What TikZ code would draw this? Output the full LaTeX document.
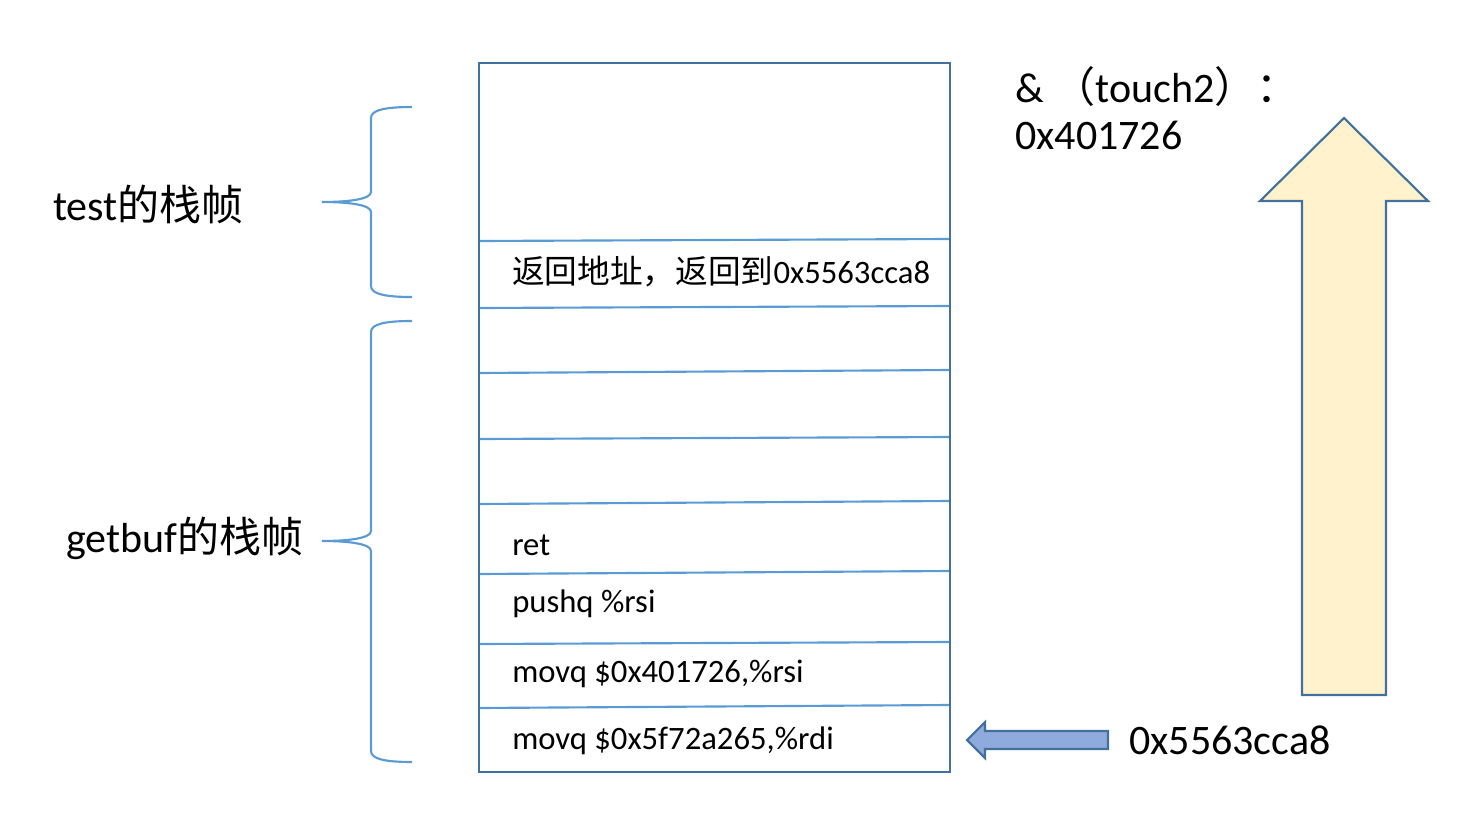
\documentclass[tikz,border=0pt]{standalone}
\usepackage{fontspec}
\setmainfont{Carlito}
\newfontfamily\cjk{Noto Sans CJK SC}
\usepackage{tikz}

\definecolor{frameblue}{HTML}{41719C}
\definecolor{lineblue}{HTML}{5B9BD5}
\definecolor{upfill}{HTML}{FFF2CC}
\definecolor{leftfill}{HTML}{8FAADC}

\tikzset{
	celltext/.style={anchor=west, inner sep=0pt, font=\fontsize{24.5}{28}\selectfont},
	bigtext/.style={inner sep=0pt, font=\fontsize{31.5}{36}\selectfont},
	bracebar/.style={draw=lineblue, line width=1.6pt},
}

\begin{document}
\begin{tikzpicture}[x=0.75pt, y=-0.75pt]
		\useasboundingbox (0,0) rectangle (1461,824);
		
		% Coordinates
		\coordinate (S_tl) at (479, 63);
		\coordinate (S_br) at (950, 772);
		
		% Stack cells
		\foreach \yl/\yr in {241/239, 308/306, 373/370, 439/437, 504/501, 574/571, 644/642, 708/705}
			\draw[lineblue, line width=1.6pt] (479,\yl) -- (950,\yr);
		\draw[frameblue, line width=1.6pt] (S_tl) rectangle (S_br);
		
		\node[celltext] (ra) at (512, 272) {{\cjk 返回地址，返回到}0x5563cca8};
		\node[celltext] (ret) at (512, 545) {ret};
		\node[celltext] (push) at (512, 604) {pushq \%rsi};
		\node[celltext] (movsi) at (512, 674) {movq \$0x401726,\%rsi};
		\node[celltext] (movdi) at (512, 741) {movq \$0x5f72a265,\%rdi};
		
		% Braces
		\draw[bracebar] (412,107) .. controls (385,107) and (371,110) .. (371,118) -- (371,192)
			.. controls (371,199) and (350,202) .. (322,202)
			.. controls (350,202) and (371,205) .. (371,212) -- (371,286)
			.. controls (371,294) and (385,297) .. (412,297);
		\draw[bracebar] (412,321) .. controls (385,321) and (371,324) .. (371,332) -- (371,531)
			.. controls (371,538) and (350,541) .. (322,541)
			.. controls (350,541) and (371,544) .. (371,551) -- (371,751)
			.. controls (371,759) and (385,762) .. (412,762);
		
		\node[bigtext, anchor=west] (testfr) at (53, 204) {test{\cjk 的栈帧}};
		\node[bigtext, anchor=west] (getfr) at (66, 538) {getbuf{\cjk 的栈帧}};
		
		% Arrows
		\filldraw[fill=upfill, draw=frameblue, line width=1.6pt]
			(1302,695) -- (1302,201) -- (1260,201) -- (1344,118) -- (1428,201)
			-- (1386,201) -- (1386,695) -- cycle;
		\filldraw[fill=leftfill, draw=frameblue, line width=1.6pt]
			(1108,731) -- (985,731) -- (985,722) -- (967,740) -- (985,758)
			-- (985,749) -- (1108,749) -- cycle;
		
		\node[bigtext, anchor=west] (touch) at (1015, 87) {\&\ {\cjk （}touch2{\cjk ）：}};
		\node[bigtext, anchor=west] (taddr) at (1015, 135) {0x401726};
		\node[bigtext, anchor=west] (inject) at (1129, 740) {0x5563cca8};
	\end{tikzpicture}
\end{document}
